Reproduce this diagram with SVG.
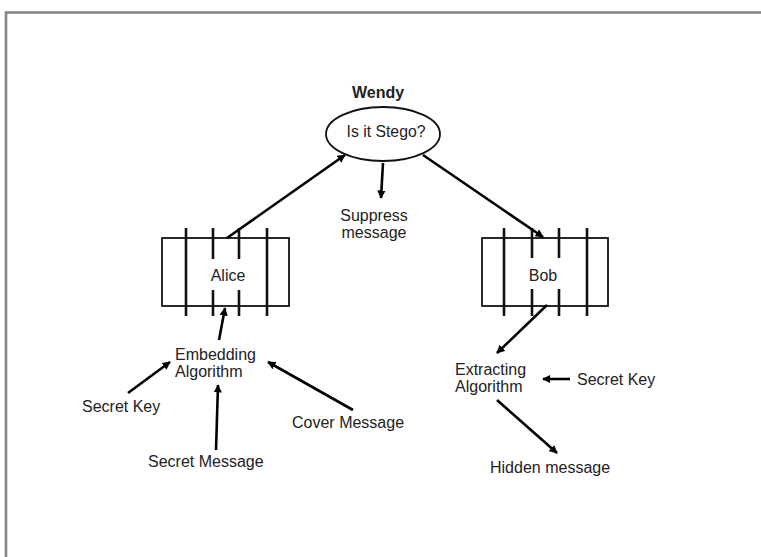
<svg xmlns="http://www.w3.org/2000/svg" width="761" height="557" viewBox="0 0 761 557">
<defs>
<marker id="ah" viewBox="0 0 10 10" refX="9" refY="5" markerWidth="3.2" markerHeight="3.2" orient="auto" markerUnits="strokeWidth">
<path d="M0,0 L10,5 L0,10 z" fill="#000"/>
</marker>
<style>
text{font-family:"Liberation Sans",Arial,sans-serif;font-size:16px;fill:#222}
.c{text-anchor:middle}
.b{font-weight:bold}
.box{fill:#fff;stroke:#111;stroke-width:1.8}
.bar{stroke:#111;stroke-width:2.6}
.con line{stroke:#000;stroke-width:2.6;marker-end:url(#ah)}
</style>
</defs>
<rect x="0" y="0" width="761" height="557" fill="#fff"/>
<rect x="6" y="12.5" width="800" height="600" fill="none" stroke="#858585" stroke-width="2.6"/>

<g id="wendy">
<text class="c b" x="378" y="98">Wendy</text>
<ellipse cx="383" cy="134" rx="57" ry="27" fill="#fff" stroke="#111" stroke-width="1.8"/>
<text class="c" x="386" y="137" textLength="79" lengthAdjust="spacingAndGlyphs">Is it Stego?</text>
</g>

<g id="suppress">
<text class="c" x="374" y="221">Suppress</text>
<text class="c" x="374" y="238">message</text>
</g>

<g id="alice">
<rect class="box" x="162" y="238" width="127" height="68"/>
<line class="bar" x1="186" y1="228" x2="186" y2="316"/>
<line class="bar" x1="267" y1="228" x2="267" y2="316"/>
<line class="bar" x1="213" y1="228" x2="213" y2="259"/>
<line class="bar" x1="213" y1="290" x2="213" y2="316"/>
<line class="bar" x1="239" y1="228" x2="239" y2="259"/>
<line class="bar" x1="239" y1="290" x2="239" y2="316"/>
<text class="c" x="228" y="281">Alice</text>
</g>

<g id="bob">
<rect class="box" x="482" y="238" width="126" height="68"/>
<line class="bar" x1="504" y1="228" x2="504" y2="316"/>
<line class="bar" x1="587" y1="228" x2="587" y2="316"/>
<line class="bar" x1="532" y1="228" x2="532" y2="258"/>
<line class="bar" x1="532" y1="289" x2="532" y2="316"/>
<line class="bar" x1="559" y1="228" x2="559" y2="258"/>
<line class="bar" x1="559" y1="289" x2="559" y2="316"/>
<text class="c" x="543" y="281">Bob</text>
</g>

<g id="embedding">
<text x="175" y="360">Embedding</text>
<text x="175" y="377">Algorithm</text>
</g>
<g id="secretkey1"><text x="82" y="412">Secret Key</text></g>
<g id="cover"><text x="292" y="428">Cover Message</text></g>
<g id="secretmsg"><text x="148" y="467">Secret Message</text></g>

<g id="extracting">
<text x="455" y="375">Extracting</text>
<text x="455" y="392">Algorithm</text>
</g>
<g id="secretkey2"><text x="577" y="385">Secret Key</text></g>
<g id="hidden"><text x="490" y="473">Hidden message</text></g>

<g class="con" id="connectors">
<line x1="227" y1="238" x2="345" y2="155"/>
<line x1="383" y1="163" x2="381" y2="198"/>
<line x1="423" y1="155" x2="543" y2="237"/>
<line x1="219" y1="340" x2="225" y2="308"/>
<line x1="128" y1="393" x2="170" y2="362"/>
<line x1="216" y1="450" x2="218" y2="385"/>
<line x1="353" y1="410" x2="268" y2="362"/>
<line x1="547" y1="305" x2="497" y2="353"/>
<line x1="570" y1="379" x2="543" y2="379"/>
<line x1="497" y1="400" x2="557" y2="453"/>
</g>
</svg>
